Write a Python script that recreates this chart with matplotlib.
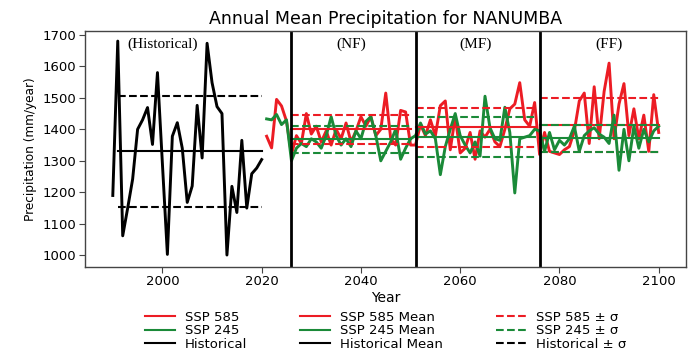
import matplotlib
matplotlib.use('Agg')
import matplotlib.pyplot as plt
from matplotlib.lines import Line2D

# ---------------- data ----------------
hist_years = list(range(1990, 2021))
hist_values = [1190, 1680, 1062, 1150, 1242, 1400, 1430, 1469, 1352, 1580,
               1290, 1003, 1378, 1421, 1340, 1168, 1220, 1476, 1309, 1673,
               1548, 1472, 1450, 1001, 1219, 1136, 1365, 1150, 1259, 1277, 1304]
hist_mean = 1330
hist_std = 177

proj_years = list(range(2021, 2101))
ssp585 = [1378, 1341, 1495, 1474, 1426,
          1320, 1380, 1355, 1450, 1385, 1410, 1360, 1395, 1350, 1400, 1370, 1420, 1360,
          1395, 1440, 1410, 1440, 1380, 1400, 1515, 1370, 1350, 1460, 1455, 1350,
          1350, 1415, 1380, 1430, 1380, 1475, 1490, 1335, 1440, 1325, 1340, 1390, 1305,
          1395, 1375, 1400, 1360, 1345, 1400, 1465, 1480, 1548, 1430, 1410, 1485,
          1320, 1390, 1330, 1325, 1320, 1335, 1345, 1395, 1490, 1515, 1355, 1535, 1370,
          1520, 1610, 1370, 1480, 1545, 1380, 1465, 1370, 1445, 1330, 1510, 1390]
ssp245 = [1433, 1430, 1447, 1415, 1430,
          1300, 1340, 1355, 1345, 1370, 1360, 1340, 1380, 1440, 1380, 1350, 1370, 1345,
          1395, 1370, 1425, 1440, 1380, 1300, 1330, 1360, 1400, 1305, 1340, 1370,
          1380, 1420, 1385, 1395, 1370, 1256, 1345, 1400, 1450, 1380, 1350, 1325, 1360,
          1315, 1505, 1405, 1370, 1365, 1470, 1390, 1198, 1370, 1375, 1380, 1400,
          1395, 1330, 1390, 1335, 1365, 1350, 1370, 1410, 1330, 1380, 1395, 1405, 1385,
          1375, 1355, 1445, 1270, 1400, 1300, 1410, 1340, 1400, 1360, 1395, 1410]

period_labels = ['(NF)', '(MF)', '(FF)']
period_start = [2026, 2051, 2076]
period_end = [2050, 2075, 2100]
period_label_x = [2038, 2063, 2090]
ssp585_mean = [1400, 1406, 1414]
ssp585_std = [46, 61, 85]
ssp245_mean = [1368, 1375, 1372]
ssp245_std = [42, 63, 43]

xticks = [2000, 2020, 2040, 2060, 2080, 2100]
yticks = [1000, 1100, 1200, 1300, 1400, 1500, 1600, 1700]

RED = '#ec1c24'
GREEN = '#1a8a38'
BLACK = 'black'

# ---------------- figure ----------------
W, H = 691, 356
fig = plt.figure(figsize=(W / 100, H / 100), dpi=100)
ax = fig.add_axes([85 / W, 1 - 267 / H, (686 - 85) / W, (267 - 31) / H])

ax.plot(hist_years, hist_values, color=BLACK, lw=2.1)
ax.plot(proj_years, ssp585, color=RED, lw=2.1)
ax.plot(proj_years, ssp245, color=GREEN, lw=2.1)

# historical mean and +/- sigma
hx = [hist_years[1], hist_years[-1]]
ax.plot(hx, [hist_mean] * 2, color=BLACK, lw=1.5)
for s in (+1, -1):
    ax.plot(hx, [hist_mean + s * hist_std] * 2, color=BLACK, lw=1.5, ls='--')

for i in range(3):
    px = [period_start[i], period_end[i]]
    ax.plot(px, [ssp585_mean[i]] * 2, color=RED, lw=1.5)
    ax.plot(px, [ssp245_mean[i]] * 2, color=GREEN, lw=1.5)
    for s in (+1, -1):
        ax.plot(px, [ssp585_mean[i] + s * ssp585_std[i]] * 2, color=RED, lw=1.5, ls='--')
        ax.plot(px, [ssp245_mean[i] + s * ssp245_std[i]] * 2, color=GREEN, lw=1.5, ls='--')
    ax.axvline(period_start[i], color=BLACK, lw=2)
    ax.text(period_label_x[i], 1670, period_labels[i], ha='center', va='center',
            family='Liberation Serif', fontsize=11)

ax.text(2000, 1670, '(Historical)', ha='center', va='center',
        family='Liberation Serif', fontsize=11)

ax.set_xlim(1984.4, 2105.5)
ax.set_ylim(963, 1712)
ax.set_xticks(xticks)
ax.set_yticks(yticks)
ax.tick_params(labelsize=9.5, pad=2, length=4, color='#444444')
for sp in ax.spines.values():
    sp.set_color('#444444')
    sp.set_linewidth(1)

ax.set_title('Annual Mean Precipitation for NANUMBA', fontsize=12.5, pad=5)
ax.set_xlabel('Year', fontsize=10, labelpad=2)
ax.set_ylabel('Precipitation (mm/year)', fontsize=8.7, labelpad=4)

handles = [
    Line2D([], [], color=RED, lw=1.5), Line2D([], [], color=GREEN, lw=1.5),
    Line2D([], [], color=BLACK, lw=1.5),
    Line2D([], [], color=RED, lw=1.5), Line2D([], [], color=GREEN, lw=1.5),
    Line2D([], [], color=BLACK, lw=1.5),
    Line2D([], [], color=RED, lw=1.5, ls='--'), Line2D([], [], color=GREEN, lw=1.5, ls='--'),
    Line2D([], [], color=BLACK, lw=1.5, ls='--'),
]
labels = ['SSP 585', 'SSP 245', 'Historical',
          'SSP 585 Mean', 'SSP 245 Mean', 'Historical Mean',
          'SSP 585 ± σ', 'SSP 245 ± σ', 'Historical ± σ']
fig.legend(handles, labels, ncol=3, loc='upper center',
           bbox_to_anchor=(385.5 / W, 1 - 300 / H), frameon=False,
           fontsize=9.5, handlelength=2.3, handletextpad=0.75,
           columnspacing=4.0, labelspacing=0.05, borderpad=0.3)

fig.savefig('out.png', dpi=100)
